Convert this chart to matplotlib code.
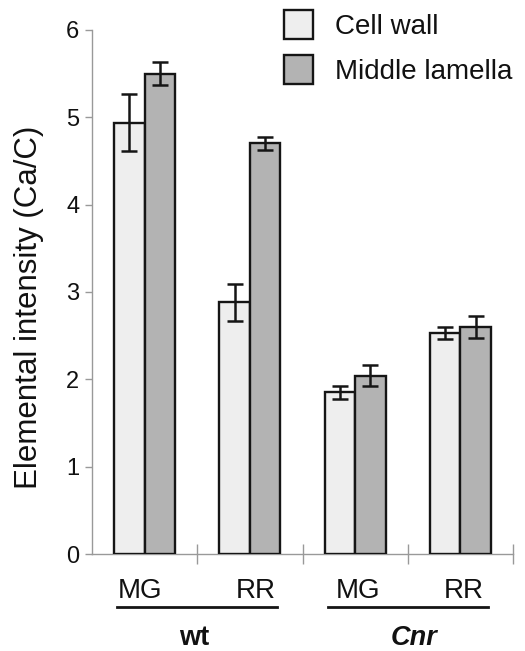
import numpy as np
import matplotlib.pyplot as plt
import matplotlib.transforms as mtransforms
from matplotlib.patches import Patch

plt.rcParams['font.family'] = ['Liberation Sans', 'DejaVu Sans']

# data
conditions = ['MG', 'RR', 'MG', 'RR']
genotypes = ['wt', 'Cnr']
cell_wall = [4.94, 2.88, 1.85, 2.53]
cell_wall_err = [0.33, 0.21, 0.07, 0.065]
middle_lamella = [5.50, 4.70, 2.04, 2.60]
middle_lamella_err = [0.13, 0.07, 0.12, 0.13]
series_names = ['Cell wall', 'Middle lamella']
yticks = [0, 1, 2, 3, 4, 5, 6]


def main():
    fig = plt.figure(figsize=(5.25, 6.51), dpi=100)
    ax = fig.add_axes([0.1752, 0.149, 0.802, 0.805])

    x = np.arange(len(conditions)) + 0.5
    w = 0.29
    err_kw = dict(ecolor='#151515', elinewidth=1.8, capsize=6, capthick=1.8)
    ax.bar(x - w / 2, cell_wall, w, yerr=cell_wall_err, color='#eeeeee',
           edgecolor='#151515', linewidth=1.7, error_kw=err_kw, zorder=3)
    ax.bar(x + w / 2, middle_lamella, w, yerr=middle_lamella_err, color='#b3b3b3',
           edgecolor='#151515', linewidth=1.7, error_kw=err_kw, zorder=3)

    ax.set_xlim(0, len(conditions))
    ax.set_ylim(0, 6)
    for s in ['top', 'right']:
        ax.spines[s].set_visible(False)
    for s in ['left', 'bottom']:
        ax.spines[s].set_color('#999999')
        ax.spines[s].set_linewidth(1.0)

    ax.set_yticks(yticks)
    ax.tick_params(axis='y', direction='out', length=5, width=1.0, color='#999999',
                   labelsize=17, pad=4, labelcolor='#111111')
    ax.set_xticks(np.arange(1, len(conditions) + 1))
    ax.set_xticklabels([])
    ax.tick_params(axis='x', which='major', direction='inout', length=15, width=1.0,
                   color='#999999')

    trans = mtransforms.blended_transform_factory(ax.transData, ax.transAxes)
    label_shift = [-0.04, 0.06, 0.03, 0.035]
    for xi, lab, dx in zip(x, conditions, label_shift):
        ax.text(xi + dx, -0.084, lab, transform=trans, ha='center', va='baseline',
                fontsize=20, color='#111111')

    ax.set_ylabel('Elemental intensity (Ca/C)', fontsize=22.5, color='#111111')
    ax.yaxis.set_label_coords(-0.115, 0.47)

    for i, g in enumerate(genotypes):
        c = 2 * i + 1.0
        ax.plot([c - 0.76, c + 0.76], [-0.101, -0.101], color='#151515', lw=2.0,
                transform=trans, clip_on=False)
        ax.text(c - 0.03 + 0.09 * i, -0.185, g, transform=trans, ha='center', va='bottom',
                fontsize=19.5, fontweight='bold', style='italic' if g == 'Cnr' else 'normal',
                color='#111111')

    handles = [Patch(facecolor='#eeeeee', edgecolor='#151515', linewidth=1.7),
               Patch(facecolor='#b3b3b3', edgecolor='#151515', linewidth=1.7)]
    fig.legend(handles, series_names, loc='upper left', bbox_to_anchor=(0.541, 0.985),
               frameon=False, fontsize=20, handlelength=1.05, handleheight=1.25,
               handletextpad=0.8, labelspacing=0.55, borderpad=0, borderaxespad=0,
               labelcolor='#111111')

    fig.savefig('out.png', dpi=100)


if __name__ == '__main__':
    main()
